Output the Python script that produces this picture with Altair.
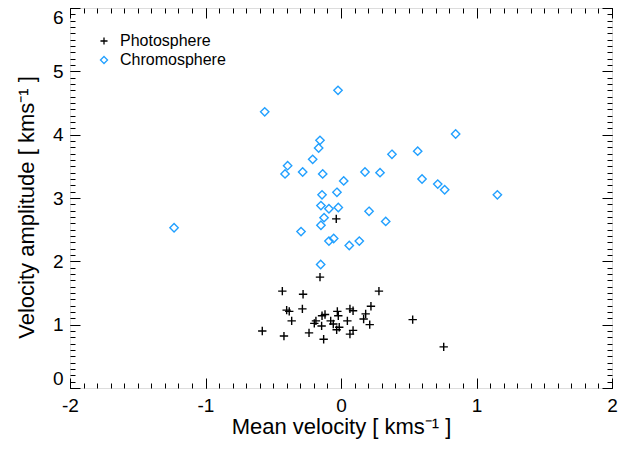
import altair as alt
import pandas as pd
import numpy as np

# Photosphere (plus markers)
photo_x = [-0.035, -0.155, -0.433, 0.280, -0.280, 0.221, -0.285, -0.401, -0.382, 0.066,
           0.089, -0.027, -0.118, -0.140, -0.020, 0.182, -0.364, -0.185, -0.076, 0.047,
           0.167, 0.529, -0.197, -0.057, -0.143, 0.212, -0.013, -0.032, 0.089, -0.581,
           -0.236, 0.066, -0.421, -0.128, 0.758]
photo_y = [2.67, 1.75, 1.53, 1.53, 1.48, 1.29, 1.25, 1.23, 1.21, 1.25,
           1.22, 1.21, 1.16, 1.14, 1.14, 1.17, 1.06, 1.06, 1.06, 1.06,
           1.09, 1.08, 1.02, 1.01, 0.98, 1.00, 0.96, 0.92, 0.91, 0.90,
           0.87, 0.85, 0.82, 0.77, 0.65]

# Chromosphere (diamond markers)
chromo_x = [-0.022, -0.563, -0.155, -0.165, 0.376, -0.209, -0.394, -0.413, -0.283, -0.135,
            0.177, 0.288, 0.020, -0.030, -0.140, -0.148, -0.089, -0.020, 0.207, -0.125,
            -0.148, 0.330, -1.232, -0.295, -0.089, -0.054, 0.061, 0.135, -0.150, 0.846,
            0.566, 0.598, 0.714, 0.765, 1.154]
chromo_y = [4.70, 4.36, 3.91, 3.79, 3.69, 3.61, 3.51, 3.38, 3.41, 3.38,
            3.41, 3.40, 3.27, 3.09, 3.05, 2.88, 2.83, 2.85, 2.79, 2.69,
            2.57, 2.63, 2.53, 2.47, 2.32, 2.36, 2.25, 2.32, 1.95, 4.01,
            3.74, 3.30, 3.22, 3.13, 3.05]

series_names = ["Photosphere", "Chromosphere"]
x_major = [-2, -1, 0, 1, 2]
y_major = [0, 1, 2, 3, 4, 5, 6]
x_minor = [round(v, 1) for v in np.arange(-2.0, 2.05, 0.1)]
y_minor = [round(v, 1) for v in np.arange(0.0, 6.05, 0.1)]

df = pd.DataFrame({
    "x": photo_x + chromo_x,
    "y": photo_y + chromo_y,
    "series": [series_names[0]] * len(photo_x) + [series_names[1]] * len(chromo_x),
})

FONT = "Liberation Sans"
MAJ = 10
MIN = 5

xscale = alt.Scale(domain=[-2, 2], nice=False, zero=False)
yscale = alt.Scale(domain=[0, 6], nice=False, zero=False)


def tick_axis(orient, values, size, labels=False, title=None, lab_pad=0, title_pad=0,
              flush=False, **extra):
    kw = dict(
        orient=orient, values=values, tickSize=size, offset=-size, domain=False,
        grid=False, tickColor="black", tickWidth=1, labels=labels,
    )
    if labels:
        kw.update(labelFont=FONT, labelFontSize=19, labelColor="black",
                  labelPadding=lab_pad, labelFlush=flush, labelOverlap=False,
                  labelExpr="datum.value")
    if title:
        kw.update(title=title, titleFont=FONT, titleFontSize=22, titleFontWeight="normal",
                  titleColor="black", titlePadding=title_pad)
    else:
        kw.update(title=None)
    kw.update(extra)
    return alt.Axis(**kw)


pts = alt.Chart(df).mark_point(filled=False, strokeWidth=1.4, size=70, opacity=1).encode(
    x=alt.X("x:Q", scale=xscale,
            axis=tick_axis("bottom", x_major, MAJ, labels=True,
                           title="Mean velocity [ kms⁻¹ ]", lab_pad=8, title_pad=1)),
    y=alt.Y("y:Q", scale=yscale,
            axis=tick_axis("left", y_major, MAJ, labels=True,
                           title="Velocity amplitude [ kms⁻¹ ]", lab_pad=7, title_pad=14,
                           flush=True, titleY=199)),
    shape=alt.Shape("series:N", scale=alt.Scale(
        domain=series_names,
        range=["M-1,0L1,0M0,-1L0,1", "M0,-1L1,0L0,1L-1,0Z"])),
    color=alt.Color("series:N", scale=alt.Scale(domain=series_names,
                                                 range=["black", "#22A0FF"]),
                    legend=alt.Legend(title=None, orient="none", legendX=26, legendY=25,
                                      labelFont=FONT, labelFontSize=16, labelColor="black",
                                      symbolSize=50, symbolStrokeWidth=1.3,
                                      rowPadding=3, labelOffset=8)),
)


def ghost(xo, xv, xs, yo, yv, ys):
    return alt.Chart(df).mark_point(opacity=0).encode(
        x=alt.X("x:Q", scale=xscale, axis=tick_axis(xo, xv, xs)),
        y=alt.Y("y:Q", scale=yscale, axis=tick_axis(yo, yv, ys)),
    )


chart = alt.layer(
    ghost("bottom", x_minor, MIN, "left", y_minor, MIN),
    ghost("top", x_major, MAJ, "right", y_major, MAJ),
    ghost("top", x_minor, MIN, "right", y_minor, MIN),
    pts,
).resolve_axis(x="independent", y="independent").properties(
    width=542, height=380,
    autosize=alt.AutoSizeParams(type="none"),
    padding={"left": 62, "top": 0, "right": 12, "bottom": 60},
).configure_view(stroke="black", strokeWidth=1.2).configure(background="white")

chart.save("out.html", embed_options={"renderer": "svg", "actions": False})
